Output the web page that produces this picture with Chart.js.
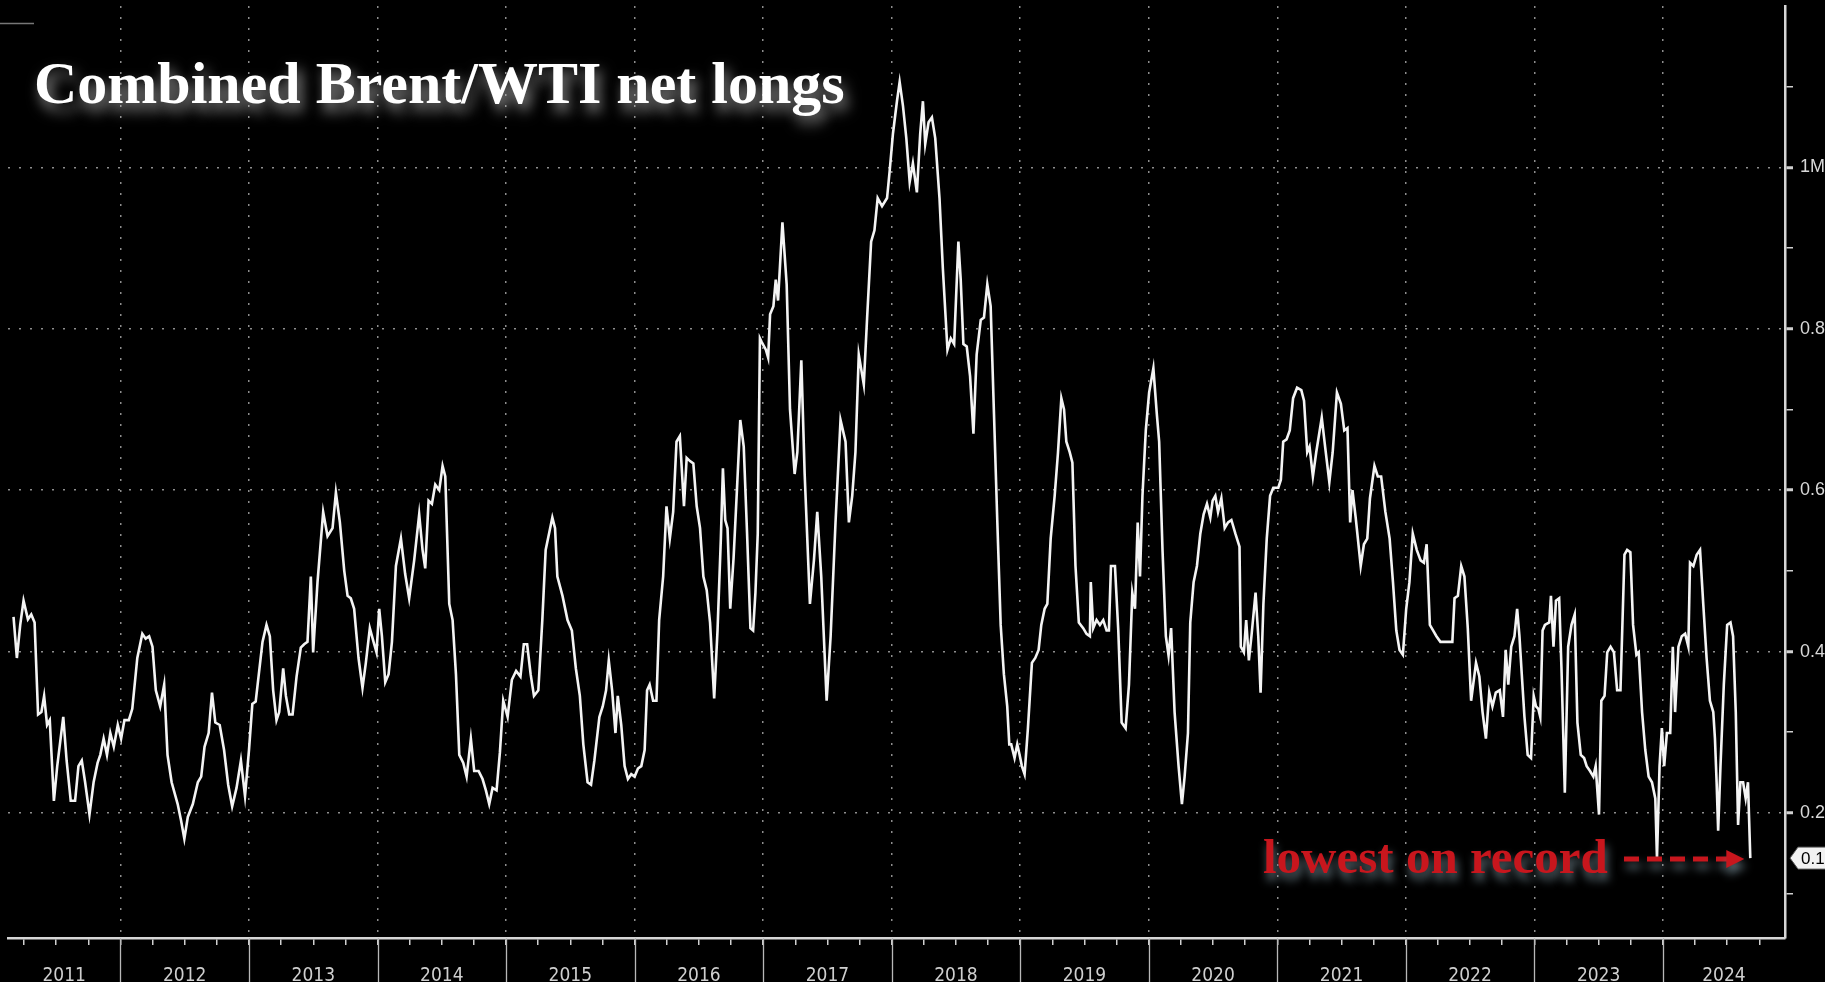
<!DOCTYPE html>
<html>
<head>
<meta charset="utf-8">
<title>Combined Brent/WTI net longs</title>
<script src="https://cdn.jsdelivr.net/npm/chart.js@4.4.1/dist/chart.umd.min.js"></script>
<style>
    html, body { margin: 0; padding: 0; background: #000; overflow: hidden; }
    #wrap { width: 1825px; height: 982px; position: relative; }
</style>
</head>
<body>
<div id="wrap"><canvas id="chart"></canvas></div>
<script>
// Combined Brent + WTI money manager net longs (millions of contracts)
// x = decimal year of the report week
const weeks = [
    2011.168, 2011.194, 2011.220, 2011.246, 2011.280, 2011.306, 2011.332, 2011.359, 2011.385, 2011.406, 2011.429, 2011.450,
    2011.482, 2011.508, 2011.555, 2011.581, 2011.613, 2011.647, 2011.673, 2011.699, 2011.725, 2011.759, 2011.791, 2011.822,
    2011.843, 2011.869, 2011.895, 2011.921, 2011.948, 2011.979,
    2012.005, 2012.031, 2012.065, 2012.092, 2012.131, 2012.170, 2012.196, 2012.223, 2012.249, 2012.275, 2012.309, 2012.340,
    2012.366, 2012.398, 2012.445, 2012.471, 2012.497, 2012.524, 2012.563, 2012.602, 2012.628, 2012.654, 2012.686, 2012.712,
    2012.738, 2012.772, 2012.806, 2012.838, 2012.869, 2012.903, 2012.937, 2012.969,
    2013.000, 2013.026, 2013.052, 2013.105, 2013.136, 2013.162, 2013.188, 2013.214, 2013.235, 2013.266, 2013.287, 2013.313,
    2013.339, 2013.370, 2013.403, 2013.429, 2013.455, 2013.481, 2013.499, 2013.533, 2013.577, 2013.611, 2013.650, 2013.676,
    2013.707, 2013.741, 2013.767, 2013.792, 2013.818, 2013.852, 2013.883, 2013.909, 2013.940, 2013.974, 2013.992,
    2014.013, 2014.034, 2014.060, 2014.086, 2014.112, 2014.143, 2014.182, 2014.215, 2014.246, 2014.285, 2014.324, 2014.350,
    2014.371, 2014.397, 2014.423, 2014.449, 2014.480, 2014.506, 2014.527, 2014.558, 2014.584, 2014.610, 2014.636, 2014.667,
    2014.693, 2014.726, 2014.752, 2014.786, 2014.817, 2014.843, 2014.869, 2014.895, 2014.926, 2014.952, 2014.978,
    2015.012, 2015.045, 2015.078, 2015.112, 2015.138, 2015.164, 2015.191, 2015.217, 2015.251, 2015.282, 2015.308, 2015.334,
    2015.360, 2015.381, 2015.399, 2015.439, 2015.478, 2015.512, 2015.543, 2015.574, 2015.601, 2015.634, 2015.661, 2015.687,
    2015.726, 2015.752, 2015.778, 2015.799, 2015.825, 2015.851, 2015.869, 2015.896, 2015.922, 2015.948, 2015.974,
    2016.000, 2016.026, 2016.052, 2016.078, 2016.097, 2016.117, 2016.144, 2016.170, 2016.191, 2016.222, 2016.248, 2016.274,
    2016.300, 2016.326, 2016.352, 2016.384, 2016.405, 2016.431, 2016.457, 2016.483, 2016.509, 2016.535, 2016.561, 2016.587,
    2016.619, 2016.645, 2016.671, 2016.687, 2016.705, 2016.723, 2016.744, 2016.770, 2016.796, 2016.822, 2016.849, 2016.875,
    2016.901, 2016.922, 2016.940, 2016.958, 2016.975, 2016.987,
    2017.021, 2017.039, 2017.054, 2017.080, 2017.098, 2017.116, 2017.150, 2017.183, 2017.209, 2017.245, 2017.266, 2017.297,
    2017.323, 2017.364, 2017.395, 2017.421, 2017.452, 2017.494, 2017.525, 2017.563, 2017.602, 2017.641, 2017.667, 2017.693,
    2017.718, 2017.744, 2017.783, 2017.809, 2017.840, 2017.866, 2017.891, 2017.925, 2017.964, 2017.984,
    2018.010, 2018.041, 2018.062, 2018.088, 2018.114, 2018.140, 2018.165, 2018.196, 2018.222, 2018.243, 2018.261, 2018.287,
    2018.313, 2018.339, 2018.372, 2018.398, 2018.434, 2018.460, 2018.486, 2018.519, 2018.537, 2018.558, 2018.584, 2018.610,
    2018.636, 2018.661, 2018.693, 2018.718, 2018.744, 2018.770, 2018.796, 2018.822, 2018.848, 2018.873, 2018.899, 2018.915,
    2018.930, 2018.956, 2018.977, 2018.995,
    2019.013, 2019.034, 2019.060, 2019.091, 2019.117, 2019.143, 2019.164, 2019.190, 2019.211, 2019.237, 2019.268, 2019.294,
    2019.320, 2019.341, 2019.359, 2019.385, 2019.406, 2019.430, 2019.456, 2019.490, 2019.516, 2019.542, 2019.549, 2019.568,
    2019.594, 2019.620, 2019.646, 2019.672, 2019.690, 2019.706, 2019.737, 2019.763, 2019.789, 2019.820, 2019.846, 2019.872,
    2019.893, 2019.914, 2019.932, 2019.951, 2019.977,
    2020.003, 2020.036, 2020.063, 2020.081, 2020.107, 2020.133, 2020.154, 2020.174, 2020.201, 2020.232, 2020.258, 2020.279,
    2020.305, 2020.323, 2020.349, 2020.375, 2020.401, 2020.427, 2020.453, 2020.479, 2020.497, 2020.518, 2020.539, 2020.565,
    2020.591, 2020.617, 2020.643, 2020.674, 2020.706, 2020.716, 2020.740, 2020.758, 2020.779, 2020.799, 2020.831, 2020.852,
    2020.870, 2020.892, 2020.918, 2020.944, 2020.969,
    2021.008, 2021.028, 2021.046, 2021.072, 2021.097, 2021.123, 2021.154, 2021.187, 2021.208, 2021.233, 2021.251, 2021.277,
    2021.303, 2021.346, 2021.372, 2021.405, 2021.431, 2021.464, 2021.495, 2021.521, 2021.546, 2021.567, 2021.585, 2021.610,
    2021.649, 2021.674, 2021.700, 2021.721, 2021.756, 2021.782, 2021.808, 2021.841, 2021.874, 2021.900, 2021.926, 2021.951,
    2021.977,
    2022.003, 2022.028, 2022.054, 2022.085, 2022.115, 2022.141, 2022.162, 2022.187, 2022.213, 2022.238, 2022.269, 2022.303,
    2022.341, 2022.362, 2022.379, 2022.405, 2022.431, 2022.456, 2022.482, 2022.508, 2022.546, 2022.572, 2022.597, 2022.623,
    2022.649, 2022.674, 2022.700, 2022.731, 2022.756, 2022.777, 2022.797, 2022.820, 2022.845, 2022.866, 2022.884, 2022.902,
    2022.923, 2022.948, 2022.974, 2022.995,
    2023.013, 2023.031, 2023.046, 2023.064, 2023.082, 2023.116, 2023.129, 2023.149, 2023.168, 2023.193, 2023.211, 2023.237,
    2023.263, 2023.289, 2023.314, 2023.335, 2023.361, 2023.387, 2023.407, 2023.433, 2023.459, 2023.477, 2023.503, 2023.521,
    2023.546, 2023.567, 2023.593, 2023.619, 2023.644, 2023.670, 2023.701, 2023.722, 2023.747, 2023.768, 2023.794, 2023.812,
    2023.838, 2023.863, 2023.889, 2023.915, 2023.941, 2023.954, 2023.974, 2023.992,
    2024.010, 2024.031, 2024.057, 2024.077, 2024.095, 2024.121, 2024.147, 2024.173, 2024.198, 2024.211, 2024.237, 2024.263,
    2024.289, 2024.314, 2024.340, 2024.366, 2024.392, 2024.405, 2024.418, 2024.430, 2024.448, 2024.474, 2024.500, 2024.526,
    2024.546, 2024.567, 2024.585, 2024.603, 2024.624, 2024.644, 2024.662, 2024.680
];

const netLongs = [
    0.443, 0.392, 0.433, 0.463, 0.440, 0.446, 0.436, 0.322, 0.325, 0.345, 0.309, 0.315,
    0.215, 0.258, 0.319, 0.265, 0.215, 0.215, 0.258, 0.265, 0.238, 0.198, 0.238, 0.262,
    0.272, 0.292, 0.272, 0.299, 0.282, 0.309,
    0.292, 0.315, 0.315, 0.329, 0.392, 0.422, 0.416, 0.419, 0.406, 0.352, 0.332, 0.359,
    0.272, 0.238, 0.211, 0.191, 0.168, 0.195, 0.211, 0.238, 0.245, 0.282, 0.299, 0.349,
    0.312, 0.309, 0.278, 0.235, 0.208, 0.231, 0.265, 0.221,
    0.278, 0.335, 0.338, 0.412, 0.433, 0.419, 0.352, 0.315, 0.325, 0.379, 0.345, 0.322,
    0.322, 0.369, 0.405, 0.409, 0.412, 0.493, 0.399, 0.486, 0.573, 0.543, 0.553, 0.597,
    0.560, 0.500, 0.469, 0.466, 0.453, 0.392, 0.355, 0.386, 0.429, 0.409, 0.399,
    0.453, 0.419, 0.362, 0.372, 0.412, 0.506, 0.540, 0.496, 0.466, 0.513, 0.570, 0.526,
    0.503, 0.587, 0.583, 0.607, 0.600, 0.630, 0.617, 0.459, 0.439, 0.372, 0.272, 0.262,
    0.245, 0.292, 0.252, 0.252, 0.242, 0.228, 0.211, 0.231, 0.228, 0.275, 0.339,
    0.319, 0.365, 0.376, 0.369, 0.409, 0.409, 0.372, 0.345, 0.352, 0.439, 0.526, 0.546,
    0.566, 0.553, 0.493, 0.469, 0.439, 0.426, 0.379, 0.345, 0.285, 0.238, 0.235, 0.265,
    0.319, 0.332, 0.352, 0.389, 0.352, 0.299, 0.345, 0.309, 0.258, 0.242, 0.248,
    0.245, 0.255, 0.258, 0.278, 0.352, 0.359, 0.339, 0.339, 0.439, 0.493, 0.580, 0.540,
    0.573, 0.660, 0.667, 0.580, 0.640, 0.636, 0.633, 0.580, 0.553, 0.493, 0.476, 0.436,
    0.342, 0.426, 0.540, 0.627, 0.563, 0.553, 0.453, 0.516, 0.600, 0.687, 0.654, 0.546,
    0.429, 0.426, 0.473, 0.546, 0.788, 0.784,
    0.774, 0.764, 0.818, 0.828, 0.861, 0.835, 0.932, 0.855, 0.700, 0.620, 0.647, 0.761,
    0.620, 0.459, 0.513, 0.573, 0.493, 0.339, 0.419, 0.560, 0.687, 0.660, 0.560, 0.593,
    0.647, 0.768, 0.731, 0.814, 0.908, 0.922, 0.962, 0.952, 0.962, 0.995,
    1.042, 1.082, 1.106, 1.076, 1.036, 0.982, 1.005, 0.969, 1.042, 1.082, 1.029, 1.056,
    1.062, 1.036, 0.962, 0.875, 0.774, 0.788, 0.781, 0.908, 0.861, 0.781, 0.778, 0.741,
    0.670, 0.768, 0.811, 0.814, 0.855, 0.828, 0.694, 0.560, 0.433, 0.372, 0.332, 0.285,
    0.285, 0.268, 0.285, 0.272,
    0.258, 0.248, 0.305, 0.386, 0.392, 0.402, 0.433, 0.453, 0.459, 0.540, 0.593, 0.647,
    0.714, 0.700, 0.660, 0.647, 0.634, 0.506, 0.436, 0.429, 0.422, 0.419, 0.486, 0.429,
    0.439, 0.433, 0.439, 0.426, 0.426, 0.506, 0.506, 0.426, 0.312, 0.305, 0.359, 0.473,
    0.453, 0.560, 0.493, 0.593, 0.674,
    0.721, 0.751, 0.694, 0.660, 0.526, 0.419, 0.395, 0.429, 0.325, 0.258, 0.211, 0.245,
    0.299, 0.436, 0.486, 0.506, 0.546, 0.570, 0.583, 0.566, 0.587, 0.593, 0.573, 0.590,
    0.553, 0.560, 0.563, 0.546, 0.530, 0.406, 0.399, 0.439, 0.389, 0.419, 0.473, 0.419,
    0.349, 0.459, 0.540, 0.593, 0.603,
    0.603, 0.613, 0.660, 0.663, 0.674, 0.714, 0.727, 0.724, 0.711, 0.647, 0.654, 0.617,
    0.647, 0.690, 0.654, 0.610, 0.647, 0.721, 0.707, 0.674, 0.677, 0.560, 0.600, 0.566,
    0.506, 0.533, 0.540, 0.590, 0.630, 0.617, 0.617, 0.573, 0.540, 0.486, 0.426, 0.402,
    0.396,
    0.453, 0.486, 0.546, 0.526, 0.513, 0.510, 0.533, 0.433, 0.426, 0.419, 0.412, 0.412,
    0.412, 0.412, 0.466, 0.469, 0.506, 0.493, 0.429, 0.339, 0.386, 0.369, 0.325, 0.292,
    0.349, 0.332, 0.349, 0.352, 0.319, 0.402, 0.359, 0.406, 0.419, 0.453, 0.419, 0.372,
    0.319, 0.272, 0.268, 0.345,
    0.332, 0.329, 0.319, 0.426, 0.433, 0.436, 0.469, 0.406, 0.463, 0.466, 0.379, 0.225,
    0.406, 0.433, 0.446, 0.312, 0.272, 0.268, 0.258, 0.252, 0.245, 0.258, 0.198, 0.339,
    0.345, 0.399, 0.406, 0.399, 0.352, 0.352, 0.520, 0.526, 0.523, 0.433, 0.396, 0.399,
    0.325, 0.278, 0.245, 0.238, 0.218, 0.144, 0.258, 0.305,
    0.258, 0.299, 0.299, 0.406, 0.325, 0.406, 0.419, 0.422, 0.406, 0.510, 0.506, 0.520,
    0.526, 0.459, 0.392, 0.339, 0.325, 0.292, 0.238, 0.178, 0.258, 0.359, 0.433, 0.436,
    0.419, 0.325, 0.185, 0.238, 0.238, 0.218, 0.238, 0.144
];

// axis labels
const yearLabels = ["2011", "2012", "2013", "2014", "2015", "2016", "2017", "2018", "2019", "2020", "2021", "2022", "2023", "2024"];
const yTickValues = [0.1, 0.2, 0.3, 0.4, 0.5, 0.6, 0.7, 0.8, 0.9, 1.0, 1.1];
const yTickLabels = ["", "0.2", "", "0.4", "", "0.6", "", "0.8", "", "1M", ""];

const titleText = "Combined Brent/WTI net longs";
const noteText = "lowest on record";

const xMin = 2011.125;
const xMax = 2024.95;

// quarter ticks built from the year list (years get the gridline)
const quarterTicks = [];
yearLabels.forEach((y) => {
    [0, 0.25, 0.5, 0.75].forEach((q) => {
        const v = Number(y) + q;
        if (v > xMin && v < xMax) quarterTicks.push(v);
    });
});

// year labels sit in the middle of the visible part of each year
const labelTicks = yearLabels.map((y) => {
    const a = Math.max(Number(y), xMin);
    const b = Math.min(Number(y) + 1, xMax);
    return { value: (a + b) / 2, label: y };
});

const isYearStart = (v) => Math.abs(v - Math.round(v)) < 1e-6;
const isQuarter = (v) => quarterTicks.some((q) => Math.abs(q - v) < 1e-6);
const xLabelFor = (v) => {
    const t = labelTicks.find((l) => Math.abs(l.value - v) < 1e-6);
    return t ? t.label : "";
};
const yLabelFor = (v) => {
    const i = yTickValues.findIndex((t) => Math.abs(t - v) < 1e-6);
    return i >= 0 ? yTickLabels[i] : "";
};

const decorations = {
    id: "decorations",
    afterDraw(chart) {
        const { ctx, chartArea, scales } = chart;
        const xs = scales.x;
        const ys = scales.y;

        // long year separators through the label band
        ctx.save();
        ctx.strokeStyle = "#b8b8b8";
        ctx.lineWidth = 1.3;
        yearLabels.forEach((y) => {
            const v = Number(y);
            if (v <= xMin || v >= xMax) return;
            const px = Math.round(xs.getPixelForValue(v)) + 0.5;
            ctx.beginPath();
            ctx.moveTo(px, chartArea.bottom);
            ctx.lineTo(px, chart.height);
            ctx.stroke();
        });
        // small frame stub in the top-left corner
        ctx.strokeStyle = "#777";
        ctx.beginPath();
        ctx.moveTo(0, 23.5);
        ctx.lineTo(34, 23.5);
        ctx.stroke();
        ctx.restore();

        // last value tag on the right axis
        const last = netLongs[netLongs.length - 1];
        const ly = ys.getPixelForValue(last);
        const bx = chartArea.right + 5;
        ctx.save();
        ctx.fillStyle = "#f2f2f2";
        ctx.strokeStyle = "#555";
        ctx.lineWidth = 1;
        ctx.beginPath();
        ctx.moveTo(bx, ly);
        ctx.lineTo(bx + 8, ly - 11);
        ctx.lineTo(chart.width + 5, ly - 11);
        ctx.lineTo(chart.width + 5, ly + 11);
        ctx.lineTo(bx + 8, ly + 11);
        ctx.closePath();
        ctx.fill();
        ctx.stroke();
        ctx.fillStyle = "#000";
        ctx.font = "17px 'Liberation Sans', Arial, sans-serif";
        ctx.textBaseline = "middle";
        ctx.fillText(last.toFixed(2), bx + 11, ly + 1);
        ctx.restore();

        // title with a soft glow
        ctx.save();
        ctx.font = "bold 60px 'Liberation Serif', 'Times New Roman', serif";
        ctx.fillStyle = "#ffffff";
        ctx.shadowColor = "rgba(185, 185, 185, 0.8)";
        ctx.shadowBlur = 14;
        ctx.shadowOffsetX = 4;
        ctx.shadowOffsetY = 8;
        ctx.textBaseline = "alphabetic";
        ctx.fillText(titleText, 34, 103);
        ctx.restore();

        // red note + dashed arrow pointing at the latest print
        const tipX = xs.getPixelForValue(weeks[weeks.length - 1]) - 6;
        const arrowY = ly + 1;
        ctx.save();
        ctx.font = "bold 49px 'Liberation Serif', 'Times New Roman', serif";
        ctx.fillStyle = "#c8161d";
        ctx.shadowColor = "rgba(110, 130, 140, 0.85)";
        ctx.shadowBlur = 10;
        ctx.shadowOffsetX = 2;
        ctx.shadowOffsetY = 7;
        ctx.textBaseline = "alphabetic";
        ctx.fillText(noteText, 1263, 873);

        ctx.strokeStyle = "#c8161d";
        ctx.lineWidth = 5;
        ctx.setLineDash([15, 8]);
        ctx.beginPath();
        ctx.moveTo(1624, arrowY);
        ctx.lineTo(tipX - 16, arrowY);
        ctx.stroke();
        ctx.setLineDash([]);
        ctx.beginPath();
        ctx.moveTo(tipX, arrowY);
        ctx.lineTo(tipX - 18, arrowY - 9);
        ctx.lineTo(tipX - 18, arrowY + 9);
        ctx.closePath();
        ctx.fill();
        ctx.restore();
    }
};

document.addEventListener("DOMContentLoaded", () => {
    const ctx = document.getElementById("chart").getContext("2d");

    new Chart(ctx, {
        type: "line",
        data: {
            datasets: [{
                label: "Net longs",
                data: weeks.map((w, i) => ({ x: w, y: netLongs[i] })),
                borderColor: "#f4f4f4",
                borderWidth: 2.6,
                pointRadius: 0,
                tension: 0,
                fill: false
            }]
        },
        options: {
            responsive: true,
            maintainAspectRatio: false,
            animation: false,
            layout: { padding: { left: 8, top: 6, right: 0, bottom: 0 } },
            plugins: {
                legend: { display: false },
                tooltip: { enabled: false }
            },
            scales: {
                x: {
                    type: "linear",
                    position: "bottom",
                    min: xMin,
                    max: xMax,
                    afterBuildTicks: (scale) => {
                        const vals = quarterTicks.concat(labelTicks.map((l) => l.value).filter((v) => !isQuarter(v)));
                        vals.sort((a, b) => a - b);
                        scale.ticks = vals.map((v) => ({ value: v }));
                    },
                    afterFit: (scale) => {
                        scale.height = 44;
                        scale.paddingLeft = 0;
                        scale.paddingRight = 0;
                    },
                    grid: {
                        color: (c) => (c.tick && isYearStart(c.tick.value) ? "#8e8e8e" : "rgba(0,0,0,0)"),
                        lineWidth: 1.5,
                        tickLength: 7,
                        tickColor: (c) => (c.tick && isQuarter(c.tick.value) ? "#cfcfcf" : "rgba(0,0,0,0)"),
                        tickWidth: 1.5,
                        tickBorderDash: []
                    },
                    border: { display: true, color: "#d6d6d6", width: 2.5, dash: [2, 9] },
                    ticks: {
                        autoSkip: false,
                        maxRotation: 0,
                        padding: 20,
                        color: "#cfcfcf",
                        font: { family: "'Liberation Sans Narrow', 'DejaVu Sans Condensed', 'Liberation Sans', sans-serif", size: 19 },
                        callback: (v) => xLabelFor(v)
                    }
                },
                y: {
                    type: "linear",
                    position: "right",
                    min: 0.045,
                    max: 1.2,
                    afterBuildTicks: (scale) => {
                        scale.ticks = yTickValues.map((v) => ({ value: v }));
                    },
                    afterFit: (scale) => {
                        scale.width = 40;
                        scale.paddingTop = 0;
                        scale.paddingBottom = 0;
                    },
                    grid: {
                        color: (c) => (c.tick && yLabelFor(c.tick.value) !== "" ? "#8e8e8e" : "rgba(0,0,0,0)"),
                        lineWidth: 1.5,
                        tickLength: 8,
                        tickColor: "#d0d0d0",
                        tickWidth: (c) => (c.tick && yLabelFor(c.tick.value) !== "" ? 3 : 1.5),
                        tickBorderDash: []
                    },
                    border: { display: true, color: "#d6d6d6", width: 2.5, dash: [2, 9] },
                    ticks: {
                        autoSkip: false,
                        padding: 7,
                        color: "#d8d8d8",
                        font: { family: "'Liberation Sans', Arial, sans-serif", size: 18 },
                        callback: (v) => yLabelFor(v)
                    }
                }
            }
        },
        plugins: [decorations]
    });
});
</script>
</body>
</html>
